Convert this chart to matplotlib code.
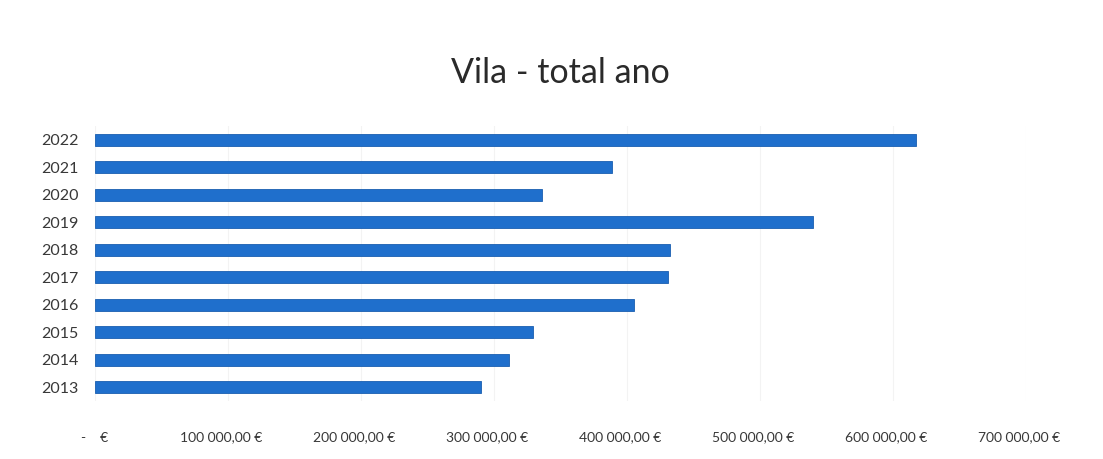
import matplotlib
matplotlib.use("Agg")
import matplotlib.pyplot as plt
from matplotlib.ticker import FuncFormatter
from matplotlib.transforms import ScaledTranslation

# dados
anos = ["2013", "2014", "2015", "2016", "2017", "2018", "2019", "2020", "2021", "2022"]
totais = [290000, 311000, 329000, 405000, 431000, 432000, 540000, 336000, 389000, 617000]
ticks_x = [0, 100000, 200000, 300000, 400000, 500000, 600000, 700000]

plt.rcParams['font.family'] = ['Lato', 'DejaVu Sans']


def euro(v, pos=None):
    if v == 0:
        return "-    €"
    s = f"{v:,.2f}".replace(",", "\u202f").replace(".", ",")
    return s + "\u202f€"


fig = plt.figure(figsize=(11.03, 4.59), dpi=100)
ax = fig.add_axes([95 / 1103, 1 - 401 / 459, (1026 - 95) / 1103, 275 / 459])

ax.barh(anos, totais, height=0.44, color="#1f6fcc", edgecolor="#1a5eb0", linewidth=0.6)

ax.set_xlim(0, 700000)
ax.set_ylim(-0.5, len(anos) - 0.5)
ax.set_xticks(ticks_x)
ax.xaxis.set_major_formatter(FuncFormatter(euro))
ax.grid(axis="x", color="#f3f3f3", linewidth=0.8)
ax.set_axisbelow(True)

for s in ax.spines.values():
    s.set_visible(False)
ax.tick_params(axis="both", length=0, colors="#383838")
ax.tick_params(axis="y", pad=12, labelsize=11.5)
ax.tick_params(axis="x", pad=22, labelsize=10)

# os rótulos do Excel ficam um pouco à esquerda das linhas de grade
desloc = ScaledTranslation(-7 / 100, 0, fig.dpi_scale_trans)
for lbl in ax.get_xticklabels()[1:]:
    lbl.set_transform(lbl.get_transform() + desloc)

fig.text(0.508, 0.842, "Vila - total ano", ha="center", va="center",
         fontsize=24.5, color="#2a2a2a")

fig.savefig("out.png", dpi=100)
